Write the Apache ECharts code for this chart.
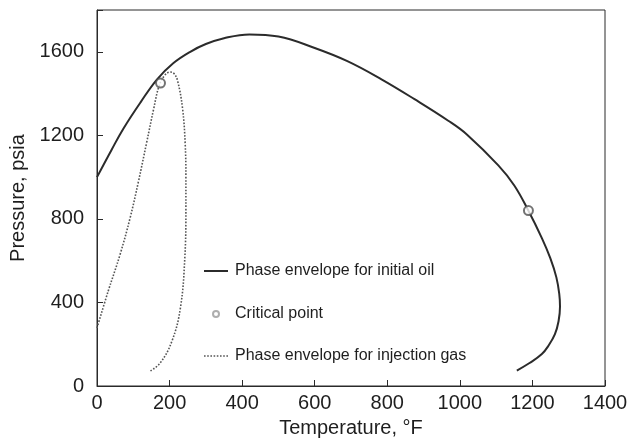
<!DOCTYPE html>
<html>
<head>
<meta charset="utf-8">
<script src="https://cdn.jsdelivr.net/npm/echarts@6/dist/echarts.min.js"></script>
<style>
  html, body { margin: 0; padding: 0; background: #ffffff; }
  #chart { width: 631px; height: 443px; }
</style>
</head>
<body>
<div id="chart"></div>
<script>
// Phase envelope of the initial oil: [temperature °F, pressure psia]
var oilEnvelope = [
  [0, 1000], [40, 1130], [73, 1233], [120, 1358], [165, 1467], [210, 1545],
  [257, 1600], [300, 1637], [350, 1665], [420, 1683], [500, 1673], [600, 1618],
  [690, 1555], [784, 1468], [875, 1373], [968, 1270], [1020, 1203], [1106, 1056],
  [1150, 960], [1189, 839], [1226, 708], [1249, 613], [1266, 520], [1274, 440],
  [1276, 380], [1272, 310], [1262, 248], [1245, 195], [1226, 153], [1192, 110],
  [1157, 74]
];

// Phase envelope of the injection gas
var gasEnvelope = [
  [0, 278], [31, 455], [64, 632], [91, 803], [114, 977], [137, 1167],
  [156, 1325], [171, 1436], [186, 1486], [202, 1503], [212, 1496], [222, 1462],
  [236, 1325], [243, 1160], [245, 1000], [245, 850], [242, 613], [230, 375],
  [207, 217], [174, 110], [143, 68]
];

// Critical points of the two fluids
var criticalPoints = [[175, 1450], [1189, 840]];

var xTicks = { min: 0, max: 1400, interval: 200 };
var yTicks = { min: 0, max: 1800, interval: 400 };

var names = {
  oil: 'Phase envelope for initial oil',
  crit: 'Critical point',
  gas: 'Phase envelope for injection gas',
  x: 'Temperature, °F',
  y: 'Pressure, psia'
};

var font = 'Liberation Sans, Arial, Helvetica, sans-serif';
var ink = '#1e1e1e';

// dotted legend glyph: a row of small squares
var dotPath = 'path://';
for (var i = 0; i < 8; i++) {
  dotPath += 'M' + (i * 3) + ',0h1.5v1.5h-1.5z';
}

var legendText = { fontFamily: font, fontSize: 16, color: ink, padding: [0, 0, 0, 2] };
var legendBase = {
  left: 204, padding: 0, itemWidth: 24, itemGap: 0,
  textStyle: legendText, selectedMode: false
};

var chart = echarts.init(document.getElementById('chart'), null, { renderer: 'canvas' });
chart.setOption({
  backgroundColor: '#ffffff',
  animation: false,
  grid: {
    left: 97, right: 26, top: 10, bottom: 54,
    show: true, borderColor: '#2a2a2a', borderWidth: 1, backgroundColor: 'transparent'
  },
  legend: [
    Object.assign({}, legendBase, {
      data: [{ name: names.oil, icon: 'path://M0,0H24V2H0Z' }],
      top: 263, itemHeight: 16
    }),
    Object.assign({}, legendBase, {
      data: [{ name: names.crit, icon: 'emptyCircle' }],
      itemStyle: { color: '#9a9a9a', borderWidth: 1 },
      left: 212, top: 306, itemHeight: 6
    }),
    Object.assign({}, legendBase, {
      data: [{ name: names.gas, icon: dotPath }],
      top: 348, itemHeight: 16
    })
  ],
  xAxis: {
    type: 'value',
    min: xTicks.min, max: xTicks.max, interval: xTicks.interval,
    name: names.x, nameLocation: 'middle', nameGap: 32,
    nameTextStyle: { fontFamily: font, fontSize: 20, color: ink },
    axisLine: { show: true, lineStyle: { color: '#2a2a2a', width: 1 } },
    axisTick: { show: true, inside: true, length: 6, lineStyle: { color: '#2a2a2a' } },
    axisLabel: { fontFamily: font, fontSize: 20, color: ink, margin: 7,
      formatter: function (v) { return String(v); } },
    splitLine: { show: false }
  },
  yAxis: {
    type: 'value',
    min: yTicks.min, max: yTicks.max, interval: yTicks.interval,
    name: names.y, nameLocation: 'middle', nameGap: 67, nameRotate: 90,
    nameTextStyle: { fontFamily: font, fontSize: 20, color: ink },
    axisLine: { show: true, lineStyle: { color: '#2a2a2a', width: 1 } },
    axisTick: { show: true, inside: true, length: 6, lineStyle: { color: '#2a2a2a' } },
    axisLabel: { fontFamily: font, fontSize: 20, color: ink, margin: 13,
      formatter: function (v) { return v === 1800 ? '' : String(v); } },
    splitLine: { show: false }
  },
  series: [
    {
      name: names.oil, type: 'line', data: oilEnvelope,
      smooth: 0.4, showSymbol: false, symbol: 'none',
      lineStyle: { color: '#2b2b2b', width: 2 },
      itemStyle: { color: '#2b2b2b' },
      z: 3
    },
    {
      name: names.gas, type: 'line', data: gasEnvelope,
      smooth: 0.4, showSymbol: false, symbol: 'none',
      lineStyle: { color: '#555555', width: 1.6, type: [1.6, 1.6] },
      itemStyle: { color: '#555555' },
      z: 2
    },
    {
      name: names.crit, type: 'scatter', data: criticalPoints,
      symbol: 'emptyCircle', symbolSize: 9,
      itemStyle: { color: '#505050', borderWidth: 1 },
      z: 4
    }
  ]
});
</script>
</body>
</html>
